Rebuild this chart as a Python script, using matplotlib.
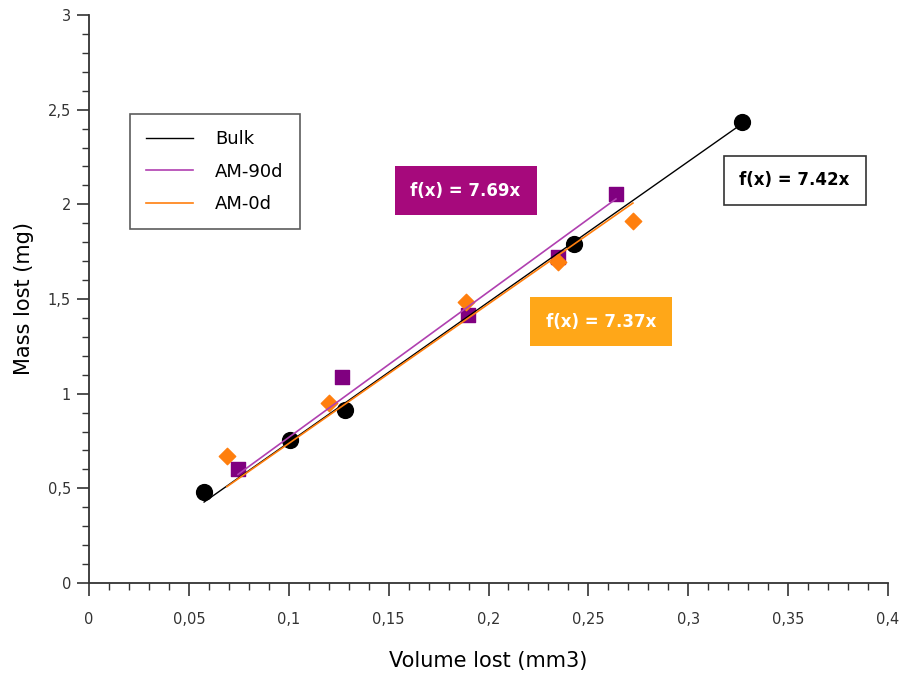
import numpy as np
import matplotlib.pyplot as plt
from matplotlib.ticker import MultipleLocator, FuncFormatter

# ====================== Données ======================
bulk_x = [0.0576, 0.1006, 0.128, 0.243, 0.327]
bulk_y = [0.48, 0.755, 0.914, 1.79, 2.435]

am90_x = [0.0746, 0.1267, 0.1897, 0.235, 0.2638]
am90_y = [0.602, 1.088, 1.416, 1.72, 2.055]

am0_x = [0.069, 0.120, 0.1887, 0.2348, 0.2723]
am0_y = [0.671, 0.951, 1.484, 1.696, 1.912]

pentes = {"Bulk": 7.42, "AM-90d": 7.69, "AM-0d": 7.37}

# ====================== Figure ======================
plt.rcParams['font.family'] = ['DejaVu Sans']

fig = plt.figure(figsize=(9.03, 6.76), dpi=100)
ax = fig.add_axes([0.0986, 0.1376, 0.8848, 0.8402])

c_bulk = "black"
c_90 = "#800080"
c_90_line = "#b040b0"
c_0 = "#ff7f0e"

# points
ax.scatter(bulk_x, bulk_y, s=130, marker='o', color=c_bulk, zorder=3)
ax.scatter(am90_x, am90_y, s=110, marker='s', color=c_90, zorder=3)
ax.scatter(am0_x, am0_y, s=70, marker='D', color=c_0, zorder=3)

# droites de tendance f(x) = a x
def droite(xs, a):
    x = np.array([min(xs), max(xs)])
    return x, a * x

x, y = droite(bulk_x, pentes["Bulk"])
ax.plot(x, y, color=c_bulk, lw=1.0, label="Bulk", zorder=4)
x, y = droite(am90_x, pentes["AM-90d"])
ax.plot(x, y, color=c_90_line, lw=1.2, label="AM-90d", zorder=4)
x, y = droite(am0_x, pentes["AM-0d"])
ax.plot(x, y, color=c_0, lw=1.2, label="AM-0d", zorder=4)

# étiquettes
ax.text(0.1885, 2.073, "f(x) = %.2fx" % pentes["AM-90d"], color="white", fontsize=12,
        fontweight="bold", ha="center", va="center",
        bbox=dict(boxstyle="square,pad=0.95", fc="#a6097c", ec="none"))
ax.text(0.2563, 1.381, "f(x) = %.2fx" % pentes["AM-0d"], color="white", fontsize=12,
        fontweight="bold", ha="center", va="center",
        bbox=dict(boxstyle="square,pad=0.95", fc="#ffa718", ec="none"))
ax.text(0.3532, 2.126, "f(x) = %.2fx" % pentes["Bulk"], color="black", fontsize=12,
        fontweight="bold", ha="center", va="center",
        bbox=dict(boxstyle="square,pad=0.95", fc="white", ec="#333333", lw=1.2))

# axes
ax.set_xlim(0, 0.4)
ax.set_ylim(0, 3)
ax.xaxis.set_major_locator(MultipleLocator(0.05))
ax.xaxis.set_minor_locator(MultipleLocator(0.01))
ax.yaxis.set_major_locator(MultipleLocator(0.5))
ax.yaxis.set_minor_locator(MultipleLocator(0.1))
fmt = FuncFormatter(lambda v, p: ("%g" % round(v, 4)).replace('.', ','))
ax.xaxis.set_major_formatter(fmt)
ax.yaxis.set_major_formatter(fmt)

for s in ["top", "right"]:
    ax.spines[s].set_visible(False)
for s in ["left", "bottom"]:
    ax.spines[s].set_linewidth(1.3)
    ax.spines[s].set_color("#333333")

ax.tick_params(which="major", length=9, width=1.2, color="#333333",
               labelsize=10.5, labelcolor="#333333")
ax.tick_params(which="minor", length=5, width=1.0, color="#333333")
ax.tick_params(axis="x", which="major", pad=12)
ax.tick_params(axis="y", which="major", pad=4)

ax.set_xlabel("Volume lost (mm3)", fontsize=15, labelpad=17)
ax.set_ylabel("Mass lost (mg)", fontsize=15, labelpad=10)

leg = ax.legend(loc="upper left", bbox_to_anchor=(0.0513, 0.8257), frameon=True,
                fancybox=False, edgecolor="#333333", fontsize=13, handlelength=2.6,
                handletextpad=1.2, borderpad=0.9, labelspacing=0.8, borderaxespad=0)
leg.get_frame().set_linewidth(1.2)

fig.savefig("out.png", dpi=100)
